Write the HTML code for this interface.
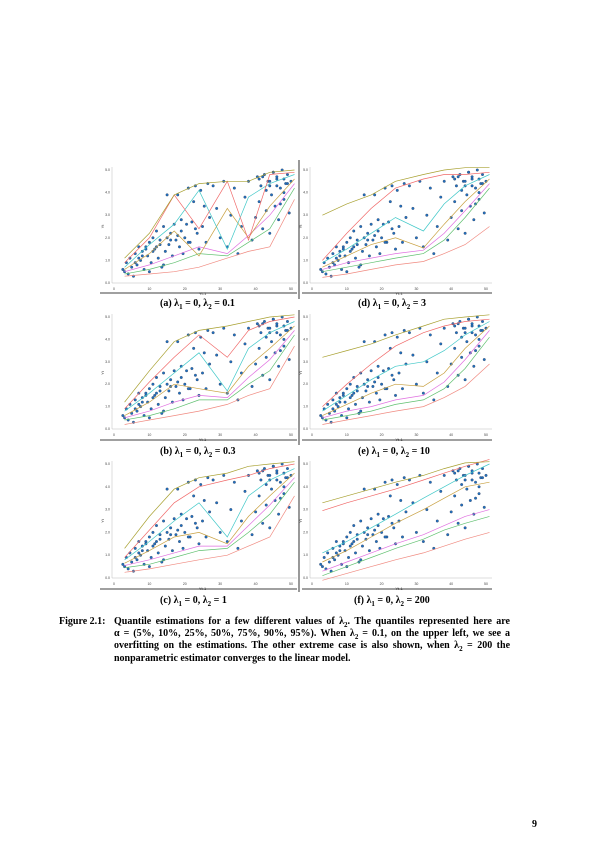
<!DOCTYPE html>
<html><head><meta charset="utf-8">
<style>
body{margin:0;background:#fff;}
#page{position:relative;width:595px;height:842px;overflow:hidden;background:#fff;font-family:"Liberation Serif",serif;color:#000;}
.cap{position:absolute;font-size:10px;font-weight:bold;white-space:nowrap;}
#fig{position:absolute;left:114px;top:616px;width:396px;font-size:10px;font-weight:bold;line-height:12.2px;}
#fig div{text-align:justify;text-align-last:justify;white-space:nowrap;}
#fig div.last{text-align-last:left;}
sub{font-size:7px;line-height:0;}
</style></head>
<body>
<div id="page">
<svg id="svg" width="595" height="842" style="position:absolute;left:0;top:0"></svg>
<div class="cap" style="left:160px;top:298px">(a) λ<sub>1</sub> = 0, λ<sub>2</sub> = 0.1</div>
<div class="cap" style="left:358px;top:298px">(d) λ<sub>1</sub> = 0, λ<sub>2</sub> = 3</div>
<div class="cap" style="left:160px;top:446px">(b) λ<sub>1</sub> = 0, λ<sub>2</sub> = 0.3</div>
<div class="cap" style="left:358px;top:446px">(e) λ<sub>1</sub> = 0, λ<sub>2</sub> = 10</div>
<div class="cap" style="left:160px;top:595px">(c) λ<sub>1</sub> = 0, λ<sub>2</sub> = 1</div>
<div class="cap" style="left:354px;top:595px">(f) λ<sub>1</sub> = 0, λ<sub>2</sub> = 200</div>
<div class="cap" style="left:59px;top:616px;font-size:10px">Figure 2.1:</div>
<div id="fig">
<div>Quantile estimations for a few different values of λ<sub>2</sub>. The quantiles represented here are</div>
<div>α = (5%, 10%, 25%, 50%, 75%, 90%, 95%). When λ<sub>2</sub> = 0.1, on the upper left, we see a</div>
<div>overfitting on the estimations. The other extreme case is also shown, when λ<sub>2</sub> = 200 the</div>
<div class="last">nonparametric estimator converges to the linear model.</div>
</div>
<div class="cap" style="left:532px;top:819px;font-size:10px">9</div>
</div>
<script>
const xTicks=[0,10,20,30,40,50];
const yTicks=[0,1,2,3,4,5];
const knots=[3,10,17,24,32,38,44,51];
const ptX=[2.5,3,3.5,4,4.5,5,5.5,6,6.5,7,
 7.5,8,8.5,9,9.5,10,10.5,11,11.5,12,
 12.5,13,13.5,14,14.5,15,15.5,16,16.5,17,
 17.5,18,18.5,19,19.5,20,20.5,21,21.5,22,
 22.5,23,23.5,24,24.5,25,25.5,26,26.5,27,
 28,29,30,31,32,33,34,35,36,37,
 38,39,40,40.5,41,41.5,42,42.5,43,43.5,
 44,44.5,45,45.5,46,46.5,47,47.5,48,48.5,
 49,49.5,50,43,45,47,41,44,48,46,
 6,8,11,13,16,18,21,23,12,15,
 19,9,7,46,48,44,42,49,10,14];
const ptY=[0.6,0.5,0.9,0.4,1.1,0.7,0.3,1.3,0.8,1.6,
 1.0,1.4,0.6,1.6,1.2,1.8,0.9,2.0,1.5,2.3,
 1.1,1.9,0.7,2.5,1.4,3.9,1.7,2.2,1.2,2.6,
 1.9,3.9,1.6,2.8,1.3,2.0,2.6,4.2,1.8,2.7,
 3.6,4.3,2.2,1.5,4.1,2.5,3.4,1.8,4.4,2.9,
 4.3,3.3,2.0,4.5,1.6,3.0,4.2,1.3,2.5,3.8,
 4.5,1.9,2.9,4.7,3.6,4.3,2.4,4.8,3.2,4.5,
 2.2,3.9,4.9,3.4,4.6,2.8,4.2,5.0,3.7,4.4,
 4.8,3.1,4.5,4.1,4.9,3.5,4.6,4.3,4.0,4.7,
 0.9,1.2,1.4,1.7,1.9,2.1,1.8,2.4,1.6,2.0,
 2.3,1.5,1.1,4.3,4.6,4.5,4.7,4.4,0.5,0.8];
const qA=[[0.3,0.4,0.5,0.7,1.1,1.4,1.6,3.7],[0.4,0.6,0.9,1.3,1.2,1.8,2.4,4.2],[0.5,0.8,1.2,1.6,1.3,2.1,3.0,4.4],[0.6,1.3,2.3,1.2,3.3,2.0,3.4,4.6],[0.7,1.7,2.6,4.1,1.5,3.8,4.4,4.8],[0.9,2.0,3.9,2.4,4.5,1.9,4.8,4.9],[1.1,2.2,3.9,4.4,4.5,4.5,4.9,5.0]];
const qB=[[0.2,0.4,0.6,0.8,1.1,1.5,1.8,3.7],[0.4,0.6,0.9,1.3,1.3,2.0,2.6,4.2],[0.5,0.8,1.2,1.5,1.4,2.3,3.1,4.4],[0.6,1.2,2.0,1.8,1.6,2.8,3.6,4.6],[0.8,1.6,2.5,3.4,1.7,3.6,4.3,4.8],[0.9,2.1,3.2,4.2,3.2,4.4,4.8,5.0],[1.2,2.6,3.9,4.4,4.6,4.8,5.0,5.1]];
const qC=[[0.25,0.4,0.6,0.8,1.0,1.4,1.8,3.6],[0.45,0.6,0.9,1.2,1.3,2.0,2.8,4.2],[0.55,0.8,1.1,1.4,1.4,2.3,3.2,4.4],[0.65,1.2,1.8,2.0,1.5,2.7,3.6,4.6],[0.8,1.6,2.5,3.3,1.8,3.6,4.3,4.8],[0.9,2.1,3.3,4.0,4.3,4.5,4.8,5.0],[1.3,2.7,3.9,4.4,4.6,4.9,5.0,5.1]];
const qD=[[0.25,0.4,0.6,0.8,0.95,1.3,1.7,2.5],[0.5,0.7,0.9,1.1,1.3,1.9,2.9,4.2],[0.6,0.9,1.1,1.3,1.45,2.2,3.2,4.4],[0.7,1.2,1.7,2.0,1.55,2.6,3.6,4.6],[0.9,1.5,2.2,2.9,2.3,3.5,4.3,4.8],[1.0,2.2,3.3,4.2,4.6,4.8,4.8,4.9],[3.0,3.5,3.9,4.5,4.8,5.0,5.1,5.1]];
const qE=[[0.2,0.4,0.6,0.8,1.0,1.4,1.9,2.9],[0.4,0.6,0.8,1.1,1.3,1.8,2.7,4.1],[0.5,0.8,1.0,1.3,1.5,2.1,3.1,4.4],[0.6,1.1,1.6,2.0,1.9,2.5,3.6,4.6],[0.8,1.5,2.2,2.8,3.0,3.5,4.2,4.8],[1.0,2.0,2.9,3.7,4.3,4.6,4.8,4.9],[3.2,3.5,3.8,4.2,4.6,4.9,5.0,5.1]];
const qF=[[-0.1,0.2,0.5,0.8,1.1,1.4,1.7,2.0],[0.1,0.5,0.9,1.3,1.7,2.1,2.4,2.7],[0.3,0.7,1.1,1.5,1.9,2.3,2.7,3.0],[0.7,1.2,1.8,2.4,3.0,3.5,4.0,4.2],[1.1,1.6,2.2,2.8,3.5,4.0,4.5,5.0],[2.95,3.3,3.6,3.9,4.3,4.6,4.9,5.2],[3.3,3.6,3.9,4.2,4.5,4.8,5.05,5.1]];
const colors=['#f08a80','#60c070','#e070e0','#c8a040','#40c8c8','#f06868','#a8a030'];
const NS='http://www.w3.org/2000/svg';
const svg=document.getElementById('svg');
function mk(tag,attrs,parent){const e=document.createElementNS(NS,tag);for(const k in attrs)e.setAttribute(k,attrs[k]);(parent||svg).appendChild(e);return e;}
const panels=[
 {id:'a',x0:114,x1:291,y0:283,y1:170,q:qA},
 {id:'d',x0:312,x1:486,y0:283,y1:170,q:qD},
 {id:'b',x0:114,x1:291,y0:429,y1:317,q:qB},
 {id:'e',x0:312,x1:486,y0:429,y1:317,q:qE},
 {id:'c',x0:114,x1:291,y0:578,y1:464,q:qC},
 {id:'f',x0:312,x1:486,y0:578,y1:464,q:qF}];
panels.forEach(p=>{
 const g=mk('g',{});
 
 
 const sx=v=>p.x0+(v/50)*(p.x1-p.x0);
 const sy=v=>p.y0+(v/5)*(p.y1-p.y0);
 const ax=mk('path',{d:`M${p.x0-2} ${p.y1-3} V${p.y0} H${p.x1+6}`,fill:'none',stroke:'#bbb','stroke-width':0.5},g);
 
 
 xTicks.forEach(t=>{const tx=mk('text',{x:sx(t),y:p.y0+7,'font-size':3.5,'text-anchor':'middle',fill:'#444','font-family':'Liberation Sans, sans-serif'},g);tx.textContent=t;
  
  });
 yTicks.forEach(t=>{const ty=mk('text',{x:p.x0-4,y:sy(t)+1,'font-size':3.5,'text-anchor':'end',fill:'#444','font-family':'Liberation Sans, sans-serif'},g);ty.textContent=t.toFixed(1);
  
  });
 const xl=mk('text',{x:(p.x0+p.x1)/2,y:p.y0+12,'font-size':4,'text-anchor':'middle',fill:'#444','font-family':'Liberation Sans, sans-serif'},g);xl.textContent='Yt-1';
 
 
 const yl=mk('text',{x:p.x0-10,y:(p.y0+p.y1)/2,'font-size':4,'text-anchor':'middle',fill:'#444','font-family':'Liberation Sans, sans-serif',transform:`rotate(-90 ${p.x0-10} ${(p.y0+p.y1)/2})`},g);yl.textContent='Yt';
 
 
 for(let i=0;i<ptX.length;i++){
  const c=mk('circle',{cx:sx(ptX[i]),cy:sy(ptY[i]),r:1.3,fill:'#1f70c0',stroke:'#334','stroke-width':0.3},g);
  
  
 }
 p.q.forEach((vals,qi)=>{
  const d=vals.map((v,i)=>(i?'L':'M')+sx(knots[i]).toFixed(1)+' '+sy(v).toFixed(1)).join(' ');
  const l=mk('path',{d:d,fill:'none',stroke:colors[qi],'stroke-width':0.7},g);
  
  
 });
});
[[100,293,297,293],[302,293,492,293],[100,440,297,440],[302,440,492,440],[100,589,297,589],[302,589,492,589],[299,160,299,299],[299,310,299,445],[299,456,299,592]].forEach(s=>{
 const l=mk('line',{x1:s[0],y1:s[1],x2:s[2],y2:s[3],stroke:'#000','stroke-width':0.8});
 
 
});
</script>
</body></html>
